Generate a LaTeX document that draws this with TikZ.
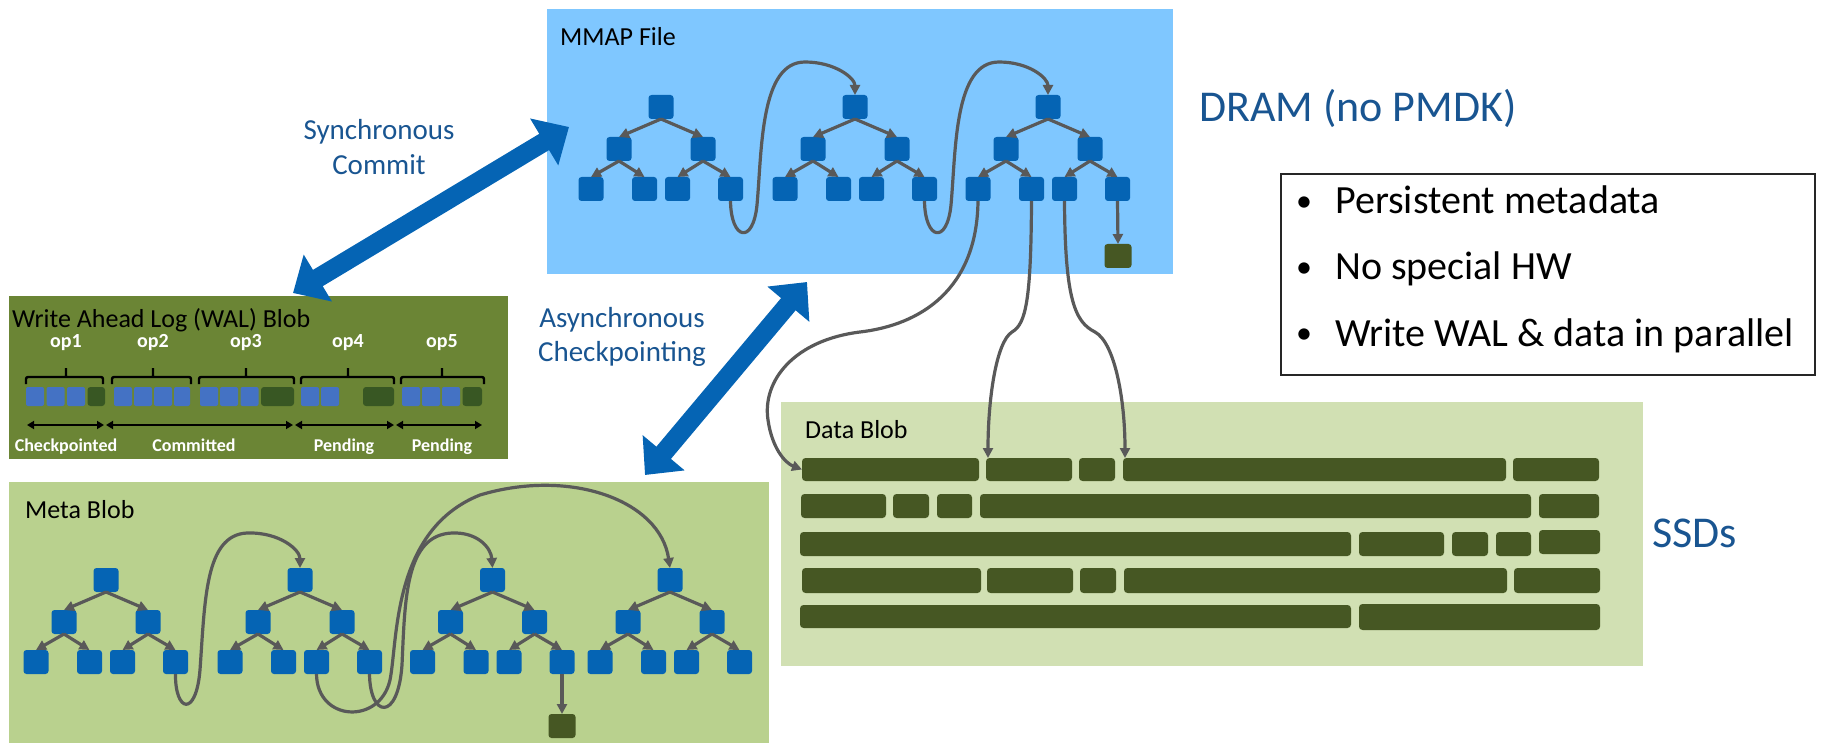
\documentclass[tikz,border=0pt]{standalone}
\usepackage{fontspec}
\setmainfont{Carlito}
\usetikzlibrary{arrows.meta,fit}
\definecolor{mmapbg}{RGB}{127,199,255}
\definecolor{nodeblue}{RGB}{5,100,180}
\definecolor{walbg}{RGB}{107,133,53}
\definecolor{walblue}{RGB}{68,114,196}
\definecolor{waldg}{RGB}{56,87,35}
\definecolor{bargreen}{RGB}{70,87,35}
\definecolor{databg}{RGB}{209,224,179}
\definecolor{metabg}{RGB}{185,209,142}
\definecolor{linegray}{RGB}{89,89,89}
\definecolor{txtblue}{RGB}{25,85,145}
\tikzset{
  tn/.style={fill=nodeblue, rounded corners=3pt, minimum width=25pt, minimum height=24pt, inner sep=0pt, outer sep=0pt},
  gn/.style={fill=bargreen, rounded corners=3pt, minimum width=27pt, minimum height=24pt, inner sep=0pt, outer sep=0pt},
  te/.style={draw=linegray, line width=3.2pt, -{Triangle[length=10pt 0 0,width=10pt 0 0]}},
  cv/.style={draw=linegray, line width=3.2pt, -{Triangle[length=10pt 0 0,width=10pt 0 0]}},
  blob/.style={inner sep=0pt, outer sep=0pt},
  dbar/.style={fill=bargreen, rounded corners=3.5pt, inner sep=0pt, outer sep=0pt},
  wblue/.style={fill=walblue, rounded corners=2pt, inner sep=0pt, outer sep=0pt},
  wgreen/.style={fill=waldg, rounded corners=3pt, inner sep=0pt, outer sep=0pt},
  bigarr/.style={draw=nodeblue, line width=19pt, {Triangle[length=29pt 0 0,width=53pt 0 0]}-{Triangle[length=29pt 0 0,width=53pt 0 0]}},
  wbrace/.style={draw=black, line width=2.4pt, rounded corners=2pt},
  dblarr/.style={draw=black, line width=2pt, {Triangle[length=7pt 0 0,width=8pt 0 0]}-{Triangle[length=7pt 0 0,width=8pt 0 0]}},
  ttl/.style={anchor=base west, inner sep=0pt, font=\fontsize{26}{30}\selectfont},
  blbl/.style={anchor=base, inner sep=0pt, text=txtblue, font=\fontsize{29}{34}\selectfont},
  biglbl/.style={anchor=base west, inner sep=0pt, text=txtblue, font=\fontsize{44}{52}\selectfont},
  bul/.style={anchor=base west, inner sep=0pt, font=\fontsize{40}{48}\selectfont},
  buldot/.style={anchor=base, inner sep=0pt, font=\fontsize{32}{40}\selectfont},
  oplbl/.style={anchor=base, inner sep=0pt, text=white, font=\fontsize{20}{24}\selectfont\bfseries},
  stlbl/.style={anchor=base, inner sep=0pt, text=white, font=\fontsize{18}{22}\selectfont\bfseries},
}
\newcommand\mytree[3]{%
  \node[tn] (#1r) at (#2,#3) {};
  \node[tn] (#1a) at ({#2-42},{#3+42}) {};
  \node[tn] (#1b) at ({#2+42},{#3+42}) {};
  \node[tn] (#1aa) at ({#2-70},{#3+82}) {};
  \node[tn] (#1ab) at ({#2-16.5},{#3+82}) {};
  \node[tn] (#1ba) at ({#2+16.5},{#3+82}) {};
  \node[tn] (#1bb) at ({#2+69.5},{#3+82}) {};
  \draw[te] (#1r.south) -- (#1a.north);
  \draw[te] (#1r.south) -- (#1b.north);
  \draw[te] (#1a.south) -- (#1aa.north);
  \draw[te] (#1a.south) -- (#1ab.north);
  \draw[te] (#1b.south) -- (#1ba.north);
  \draw[te] (#1b.south) -- (#1bb.north);
}
\newcommand\databar[5]{\node[dbar, fit={(#2,#3)(#4,#5)}] (#1) {};}
\newcommand\walblk[4]{\node[#4, fit={(#2,387)(#3,406)}] (#1) {};}
\begin{document}
\begin{tikzpicture}[x=1pt,y=-1pt]
\useasboundingbox (0,0) rectangle (1829,743);
% ---------- containers
\node[blob, fill=mmapbg, fit={(547,9)(1173,274)}] (mmap) {};
\node[blob, fill=walbg, fit={(9,296)(508,459)}] (wal) {};
\node[blob, fill=metabg, fit={(9,482)(769,746)}] (meta) {};
\node[blob, fill=databg, fit={(781,402)(1643,666)}] (data) {};
\node[blob, draw=black!85, line width=2pt, fit={(1281,174)(1815,375)}] (bullets) {};
% ---------- titles
\node[ttl] (tmmap) at (560,46) {MMAP File};
\node[ttl] (twal) at (12,327) {Write Ahead Log (WAL) Blob};
\node[ttl] (tmeta) at (25,518) {Meta Blob};
\node[ttl] (tdata) at (805,438) {Data Blob};
% ---------- side labels
\node[blbl] (sync1) at (379,140) {Synchronous};
\node[blbl] (sync2) at (379,175) {Commit};
\node[blbl] (async1) at (622,327) {Asynchronous};
\node[blbl] (async2) at (622,362) {Checkpointing};
\node[biglbl] (dram) at (1199,122) {DRAM (no PMDK)};
\node[biglbl] (ssd) at (1652,547) {SSDs};
\node[buldot] (b1d) at (1304,212) {•};
\node[bul] (b1) at (1335,214) {Persistent metadata};
\node[buldot] (b2d) at (1304,278) {•};
\node[bul] (b2) at (1335,280) {No special HW};
\node[buldot] (b3d) at (1304,344) {•};
\node[bul] (b3) at (1335,346) {Write WAL \& data in parallel};
% ---------- MMAP trees
\mytree{m1}{661}{107}
\mytree{m2}{855}{107}
\mytree{m3}{1048}{107}
\node[gn] (mg) at (1118,256) {};
\draw[te] (m3bb.south) -- (mg.north);
\draw[cv] (m1bb.south) .. controls (731,240) and (753,245) .. (757,205)
  .. controls (762,150) and (760,62) .. (805,62)
  .. controls (835,62) and (855,78) .. (m2r.north);
\draw[cv] (m2bb.south) .. controls (925,240) and (947,245) .. (951,205)
  .. controls (956,150) and (954,62) .. (999,62)
  .. controls (1029,62) and (1048,78) .. (m3r.north);
% ---------- Meta trees
\mytree{t1}{106}{580}
\mytree{t2}{300}{580}
\mytree{t3}{492.5}{580}
\mytree{t4}{670}{580}
\node[gn] (tg) at (562,726) {};
\draw[te] (t3bb.south) -- (tg.north);
\draw[cv] (t1bb.south) .. controls (175,712) and (196,718) .. (200,670)
  .. controls (205,600) and (205,535) .. (247,533)
  .. controls (280,532) and (300,550) .. (t2r.north);
\draw[cv] (t2ba.south) .. controls (317,722) and (380,725) .. (390,680)
  .. controls (398,640) and (392,530) .. (480,495)
  .. controls (570,468) and (660,500) .. (t4r.north);
\draw[cv] (t2bb.south) .. controls (370,718) and (398,722) .. (402,665)
  .. controls (405,600) and (405,535) .. (452,533)
  .. controls (478,532) and (491,548) .. (t3r.north);
% ---------- Data bars
\databar{d1a}{802}{458}{979}{481}
\databar{d1b}{986}{458}{1072}{481}
\databar{d1c}{1079}{458}{1115}{481}
\databar{d1d}{1123}{458}{1506}{481}
\databar{d1e}{1513}{458}{1599}{481}
\databar{d2a}{801}{494}{886}{518}
\databar{d2b}{893}{494}{929}{518}
\databar{d2c}{937}{494}{972}{518}
\databar{d2d}{980}{494}{1531}{518}
\databar{d2e}{1539}{494}{1599}{518}
\databar{d3a}{800}{532}{1351}{556}
\databar{d3b}{1359}{532}{1444}{556}
\databar{d3c}{1452}{532}{1488}{556}
\databar{d3d}{1496}{532}{1531}{556}
\databar{d3e}{1539}{530}{1600}{554}
\databar{d4a}{802}{568}{981}{593}
\databar{d4b}{987}{568}{1073}{593}
\databar{d4c}{1080}{568}{1116}{593}
\databar{d4d}{1124}{568}{1507}{593}
\databar{d4e}{1514}{568}{1600}{593}
\databar{d5a}{800}{605}{1351}{628}
\databar{d5b}{1359}{604}{1600}{630}
% ---------- MMAP -> data
\draw[cv] (m3aa.south) .. controls (977,290) and (920,325) .. (860,332)
  .. controls (795,340) and (762,380) .. (768,420)
  .. controls (772,448) and (785,463) .. (d1a.west);
\draw[cv] (m3ab.south) .. controls (1031,300) and (1026,324) .. (1012,332)
  .. controls (996,342) and (988,400) .. ([xshift=2pt]d1b.north west);
\draw[cv] (m3ba.south) .. controls (1065,300) and (1075,322) .. (1095,332)
  .. controls (1115,343) and (1125,400) .. ([xshift=2pt]d1d.north west);
% ---------- WAL content
\walblk{w11}{26}{44}{wblue}
\walblk{w12}{46.5}{64.5}{wblue}
\walblk{w13}{67}{85}{wblue}
\walblk{w14}{87.5}{105}{wgreen}
\walblk{w21}{114}{132}{wblue}
\walblk{w22}{134}{152}{wblue}
\walblk{w23}{154}{172}{wblue}
\walblk{w24}{174}{190}{wblue}
\walblk{w31}{200}{218}{wblue}
\walblk{w32}{220}{238}{wblue}
\walblk{w33}{240.5}{258.5}{wblue}
\walblk{w34}{261}{294}{wgreen}
\walblk{w41}{301}{319}{wblue}
\walblk{w42}{321}{339}{wblue}
\walblk{w43}{363}{394}{wgreen}
\walblk{w51}{402}{420}{wblue}
\walblk{w52}{422}{440}{wblue}
\walblk{w53}{442}{460}{wblue}
\walblk{w54}{462.5}{482}{wgreen}
\draw[wbrace] (26,384) -- (26,377) -- (103,377) -- (103,384) (66,377) -- (66,368);
\draw[wbrace] (112,384) -- (112,377) -- (191,377) -- (191,384) (153,377) -- (153,368);
\draw[wbrace] (199,384) -- (199,377) -- (294,377) -- (294,384) (246,377) -- (246,368);
\draw[wbrace] (301,384) -- (301,377) -- (394,377) -- (394,384) (348,377) -- (348,368);
\draw[wbrace] (401,384) -- (401,377) -- (484,377) -- (484,384) (442,377) -- (442,368);
\node[oplbl] (op1) at (66,348) {op1};
\node[oplbl] (op2) at (153,348) {op2};
\node[oplbl] (op3) at (246,348) {op3};
\node[oplbl] (op4) at (348,348) {op4};
\node[oplbl] (op5) at (442,348) {op5};
\coordinate (ar0) at (27,425);
\coordinate (ar1) at (104,425);
\coordinate (ar2) at (106,425);
\coordinate (ar3) at (293,425);
\coordinate (ar4) at (295,425);
\coordinate (ar5) at (394,425);
\coordinate (ar6) at (396,425);
\coordinate (ar7) at (482,425);
\draw[dblarr] (ar0) -- (ar1);
\draw[dblarr] (ar2) -- (ar3);
\draw[dblarr] (ar4) -- (ar5);
\draw[dblarr] (ar6) -- (ar7);
\node[stlbl] (st1) at (66,451) {Checkpointed};
\node[stlbl] (st2) at (194,451) {Committed};
\node[stlbl] (st3) at (344,451) {Pending};
\node[stlbl] (st4) at (442,451) {Pending};
% ---------- big arrows
\coordinate (s1) at (293,293);
\coordinate (s2) at (569,127);
\draw[bigarr] (s1) -- (s2);
\coordinate (a1) at (645,475);
\coordinate (a2) at (807,282);
\draw[bigarr] (a1) -- (a2);
\end{tikzpicture}
\end{document}
